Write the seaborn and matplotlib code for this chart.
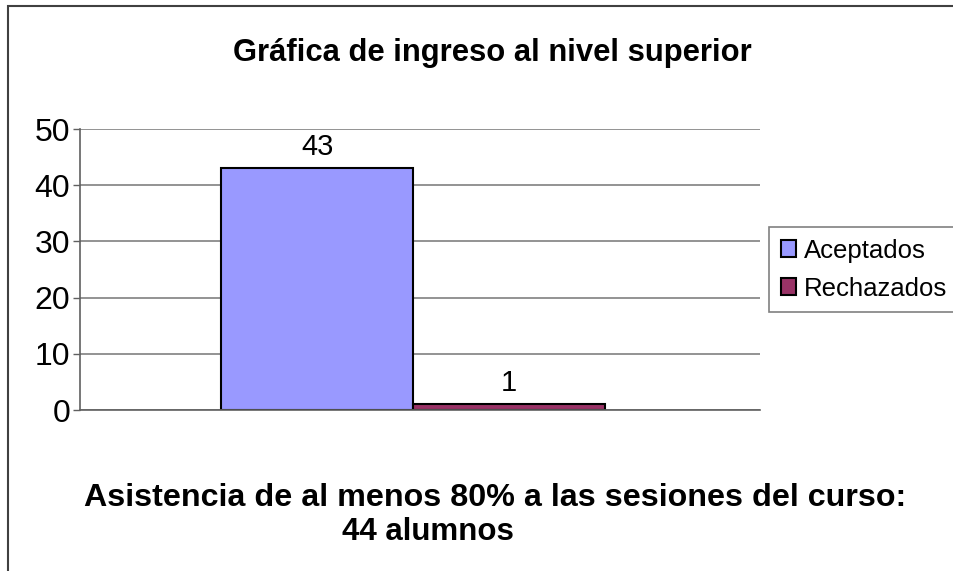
import matplotlib
matplotlib.use("Agg")
import matplotlib.pyplot as plt
import matplotlib.patches as mpatches
import pandas as pd
import seaborn as sns

# datos
grupo = ["Asistencia"]
series = ["Aceptados", "Rechazados"]
valores = [43, 1]
colores = ["#9999FF", "#993366"]
titulo = "Gráfica de ingreso al nivel superior"
nota_1 = "Asistencia de al menos 80% a las sesiones del curso:"
nota_2 = "44 alumnos"

df = pd.DataFrame({
    "grupo": grupo * len(series),
    "serie": series,
    "valor": valores,
})

sns.set_theme(style="white")
plt.rcParams["font.family"] = ["Liberation Sans", "DejaVu Sans"]
plt.rcParams["text.color"] = "black"
plt.rcParams["ytick.labelcolor"] = "black"

fig = plt.figure(figsize=(9.54, 5.71), dpi=100)
ax = fig.add_axes([80 / 954, 1 - 410 / 571, 680 / 954, 281 / 571])

sns.barplot(data=df, x="grupo", y="valor", hue="serie",
            palette=colores, width=0.565, edgecolor="black",
            linewidth=1.5, ax=ax, legend=False, saturation=1)

ax.set_ylim(0, 50)
ax.set_xlim(-0.49, 0.51)
ax.set_yticks(range(0, 51, 10))
ax.yaxis.grid(True, color="#808080", linewidth=1.2)
ax.set_axisbelow(True)
ax.set_xticks([])
ax.set_xlabel("")
ax.set_ylabel("")
ax.tick_params(axis="y", labelsize=23, length=5, width=1, color="#606060",
               labelcolor="black", left=True, pad=2)
for s in ["top", "right"]:
    ax.spines[s].set_visible(False)
ax.spines["left"].set_color("#606060")
ax.spines["bottom"].set_color("#606060")
ax.spines["left"].set_linewidth(1.2)
ax.spines["bottom"].set_linewidth(1.2)

# etiquetas de valor
for cont in ax.containers:
    ax.bar_label(cont, fontsize=21, padding=5, color="black")

# titulo y notas
fig.text(492 / 954, 1 - 53 / 571, titulo, ha="center", va="center",
         fontsize=22.3, fontweight="bold", color="black")
fig.text(495 / 954, 1 - 498 / 571, nota_1, ha="center", va="center",
         fontsize=23.2, fontweight="bold", color="black")
fig.text(342 / 954, 1 - 532 / 571, nota_2, ha="left", va="center",
         fontsize=22.5, fontweight="bold", color="black")

# leyenda
handles = [mpatches.Patch(facecolor=c, edgecolor="black", linewidth=1.5, label=s)
           for c, s in zip(colores, series)]
leg = fig.legend(handles=handles, loc="upper left",
                 bbox_to_anchor=(769 / 954, 1 - 227 / 571),
                 fontsize=18.5, frameon=True, fancybox=False,
                 handlelength=0.6, handleheight=0.6, handletextpad=0.3,
                 borderpad=0.45, labelspacing=0.55, borderaxespad=0)
leg.get_frame().set_edgecolor("#606060")
leg.get_frame().set_linewidth(1.2)

# marco de la grafica
fig.add_artist(mpatches.Rectangle((8 / 954, -0.1), 1.2, 1.1 - 6 / 571,
                                  transform=fig.transFigure, fill=False,
                                  edgecolor="#404040", linewidth=1.5))

fig.savefig("out.png", dpi=100)
